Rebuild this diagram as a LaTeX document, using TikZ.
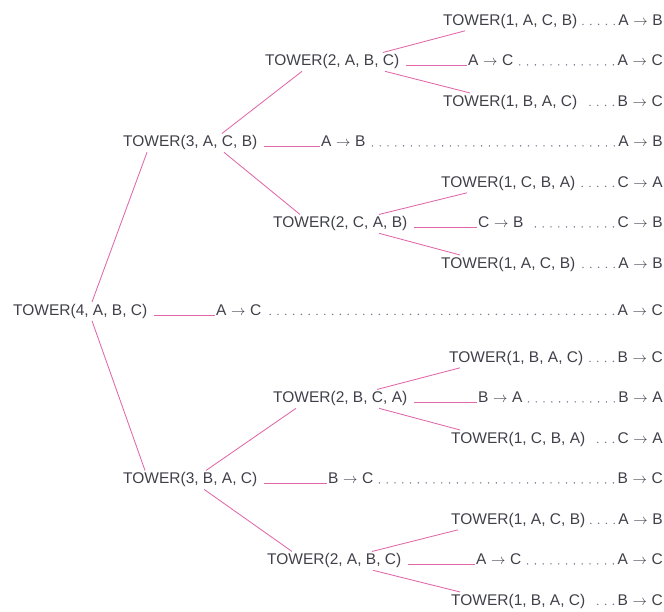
\documentclass[tikz,border=0pt]{standalone}
\usepackage{fontspec}
\setmainfont{Liberation Sans}
\definecolor{txt}{RGB}{64,64,74}
\definecolor{lnk}{RGB}{224,104,170}
\definecolor{dotc}{RGB}{115,118,140}
\newcommand\mvto{\hspace{0.3em}$\rightarrow$\hspace{0.3em}}
\begin{document}
\begin{tikzpicture}[x=1pt,y=-1pt,
  lbl/.style={anchor=base west, inner sep=0pt, text=txt, font=\fontsize{15.5}{18}\selectfont},
  rlbl/.style={lbl, anchor=base east},
  edge/.style={draw=lnk, line width=0.85pt},
  lead/.style={draw=dotc, line width=1.6pt, line cap=round, dash pattern=on 0pt off 7.8pt}]
\useasboundingbox (0,0) rectangle (664,612);
% rows
\node[lbl]  (t1)  at (443,25.4)  {TOWER(1, A, C, B)};
\node[rlbl] (r1)  at (663,25.4)  {A\mvto B};
\node[lbl]  (t2)  at (265,65.9)  {TOWER(2, A, B, C)};
\node[lbl]  (m2)  at (468,65.9)  {A\mvto C};
\node[rlbl] (r2)  at (663,65.9)  {A\mvto C};
\node[lbl]  (t3)  at (443,106.4) {TOWER(1, B, A, C)};
\node[rlbl] (r3)  at (663,106.4) {B\mvto C};
\node[lbl]  (t4)  at (123,146.9) {TOWER(3, A, C, B)};
\node[lbl]  (m4)  at (321,146.9) {A\mvto B};
\node[rlbl] (r4)  at (663,146.9) {A\mvto B};
\node[lbl]  (t5)  at (441,187.4) {TOWER(1, C, B, A)};
\node[rlbl] (r5)  at (663,187.4) {C\mvto A};
\node[lbl]  (t6)  at (273,227.9) {TOWER(2, C, A, B)};
\node[lbl]  (m6)  at (478,227.9) {C\mvto B};
\node[rlbl] (r6)  at (663,227.9) {C\mvto B};
\node[lbl]  (t7)  at (441,268.4) {TOWER(1, A, C, B)};
\node[rlbl] (r7)  at (663,268.4) {A\mvto B};
\node[lbl]  (t8)  at (13,315.4)  {TOWER(4, A, B, C)};
\node[lbl]  (m8)  at (216,315.4) {A\mvto C};
\node[rlbl] (r8)  at (663,315.4) {A\mvto C};
\node[lbl]  (t9)  at (449,362.4) {TOWER(1, B, A, C)};
\node[rlbl] (r9)  at (663,362.4) {B\mvto C};
\node[lbl]  (t10) at (273,402.9) {TOWER(2, B, C, A)};
\node[lbl]  (m10) at (478,402.9) {B\mvto A};
\node[rlbl] (r10) at (663,402.9) {B\mvto A};
\node[lbl]  (t11) at (451,443.4) {TOWER(1, C, B, A)};
\node[rlbl] (r11) at (663,443.4) {C\mvto A};
\node[lbl]  (t12) at (123,483.9) {TOWER(3, B, A, C)};
\node[lbl]  (m12) at (328,483.9) {B\mvto C};
\node[rlbl] (r12) at (663,483.9) {B\mvto C};
\node[lbl]  (t13) at (451,524.4) {TOWER(1, A, C, B)};
\node[rlbl] (r13) at (663,524.4) {A\mvto B};
\node[lbl]  (t14) at (267,564.9) {TOWER(2, A, B, C)};
\node[lbl]  (m14) at (476,564.9) {A\mvto C};
\node[rlbl] (r14) at (663,564.9) {A\mvto C};
\node[lbl]  (t15) at (451,605.4) {TOWER(1, B, A, C)};
\node[rlbl] (r15) at (663,605.4) {B\mvto C};
% horizontal connectors to the moves
\foreach \a/\b in {t2/m2,t4/m4,t6/m6,t8/m8,t10/m10,t12/m12,t14/m14}
  \draw[edge] ([xshift=7pt]\a.base east) -- ([xshift=-1pt]\b.base west);
% dotted leaders (drawn from the right so the dots meet the right-hand move)
\foreach \a/\b in {t1/r1,m2/r2,t3/r3,m4/r4,t5/r5,m6/r6,t7/r7,m8/r8,t9/r9,m10/r10,t11/r11,m12/r12,t13/r13,m14/r14,t15/r15}
  \draw[lead] ([xshift=-4pt,yshift=1pt]\b.base west) -- ([xshift=5pt,yshift=1pt]\a.base east);
% tree edges
\draw[edge] ([xshift=79pt,yshift=2pt]t8.north west) -- ([xshift=24pt,yshift=-2pt]t4.south west);
\draw[edge] ([xshift=79pt,yshift=-2pt]t8.south west) -- ([xshift=22pt,yshift=2pt]t12.north west);
\draw[edge] ([xshift=99pt,yshift=2pt]t4.north west) -- ([xshift=37pt,yshift=-2pt]t2.south west);
\draw[edge] ([xshift=101pt,yshift=-2pt]t4.south west) -- ([xshift=27pt,yshift=2pt]t6.north west);
\draw[edge] ([xshift=83pt,yshift=2pt]t12.north west) -- ([xshift=23pt,yshift=-2pt]t10.south west);
\draw[edge] ([xshift=81pt,yshift=-2pt]t12.south west) -- ([xshift=25pt,yshift=2pt]t14.north west);
\draw[edge] ([xshift=118pt,yshift=2pt]t2.north west) -- ([xshift=22pt,yshift=-2pt]t1.south west);
\draw[edge] ([xshift=120pt,yshift=-2pt]t2.south west) -- ([xshift=27pt,yshift=2pt]t3.north west);
\draw[edge] ([xshift=106pt,yshift=2pt]t6.north west) -- ([xshift=26pt,yshift=-2pt]t5.south west);
\draw[edge] ([xshift=106pt,yshift=-2pt]t6.south west) -- ([xshift=19pt,yshift=2pt]t7.north west);
\draw[edge] ([xshift=104pt,yshift=2pt]t10.north west) -- ([xshift=11pt,yshift=-2pt]t9.south west);
\draw[edge] ([xshift=106pt,yshift=-2pt]t10.south west) -- ([xshift=9pt,yshift=2pt]t11.north west);
\draw[edge] ([xshift=105pt,yshift=2pt]t14.north west) -- ([xshift=7pt,yshift=-2pt]t13.south west);
\draw[edge] ([xshift=106pt,yshift=-2pt]t14.south west) -- ([xshift=9pt,yshift=2pt]t15.north west);
\end{tikzpicture}
\end{document}
